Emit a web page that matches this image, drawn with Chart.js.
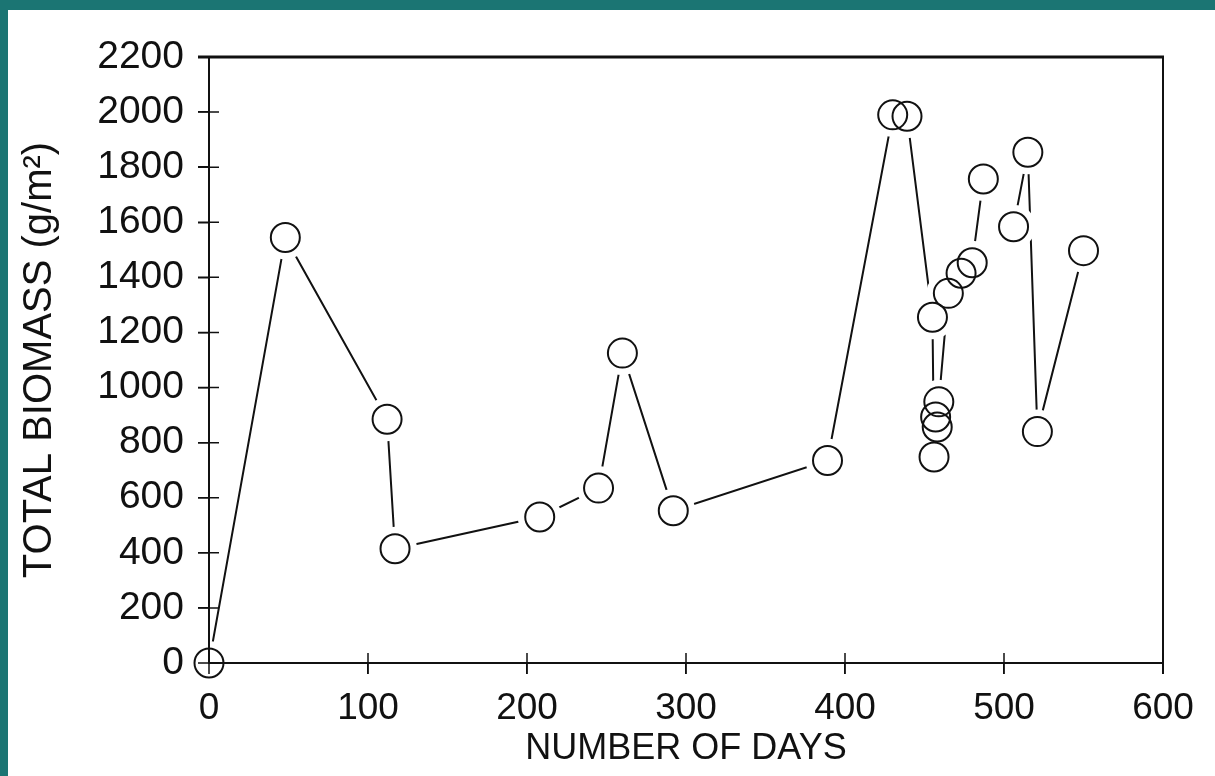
<!DOCTYPE html>
<html>
<head>
    <title>Total Biomass</title>
    <style type="text/css">
        body {
            margin: 0;
            width: 1215px;
            height: 776px;
            overflow: hidden;
            position: relative;
            background: #1b7573;
        }

        .panel {
            position: absolute;
            left: 8px;
            top: 10px;
            right: 0;
            bottom: 0;
            background: #fff;
        }

        #chart {
            position: absolute;
            left: 0;
            top: 0;
        }
    </style>
</head>
<body>
    <div class="panel"></div>
    <canvas id="chart" width="1215" height="776"></canvas>
    <script src="https://cdn.jsdelivr.net/npm/chart.js@4.4.0/dist/chart.umd.min.js"></script>
    <script>
        // sampling days and biomass (null = break in the line)
        var days = [0, 48, 112, 117, 208, 245, 260, 292, 389, 430, 439, 455, 456, 457, 458, 459, 465, 473, 480, 487, null, 506, 515, 521, 550];
        var biomass = [0, 1545, 885, 415, 530, 635, 1125, 553, 735, 1990, 1985, 1255, 748, 893, 857, 948, 1342, 1415, 1453, 1757, null, 1584, 1854, 840, 1497];

        var xTickValues = [0, 100, 200, 300, 400, 500, 600];
        var yTickValues = [0, 200, 400, 600, 800, 1000, 1200, 1400, 1600, 1800, 2000, 2200];

        var ink = '#111';
        var fontFamily = "'Liberation Sans', Arial, sans-serif";
        var points = days.map((d, i) => ({ x: d, y: biomass[i] }));

        // frame + ticks crossing the axes, drawn over the datasets
        var framePlugin = {
            id: 'frame',
            afterDatasetsDraw(chart) {
                var ctx = chart.ctx;
                var a = chart.chartArea;
                var xs = chart.scales.x, ys = chart.scales.y;
                ctx.save();
                ctx.strokeStyle = ink;
                ctx.lineWidth = 2;
                ctx.beginPath();
                ctx.moveTo(a.left, a.top);
                ctx.lineTo(a.left, a.bottom);
                ctx.lineTo(a.right, a.bottom);
                ctx.moveTo(a.right, a.top);
                ctx.lineTo(a.right, a.bottom + 11);
                ctx.stroke();
                ctx.lineWidth = 3;
                ctx.beginPath();
                ctx.moveTo(a.left - 11, a.top);
                ctx.lineTo(a.right + 1, a.top);
                ctx.stroke();
                ctx.lineWidth = 1.5;
                ctx.beginPath();
                xTickValues.forEach(v => {
                    var px = xs.getPixelForValue(v);
                    ctx.moveTo(px, a.bottom - 10);
                    ctx.lineTo(px, a.bottom + 11);
                });
                yTickValues.forEach(v => {
                    var py = ys.getPixelForValue(v);
                    ctx.moveTo(a.left - 11, py);
                    ctx.lineTo(a.left + 10, py);
                });
                ctx.stroke();
                ctx.restore();
            }
        };

        new Chart(document.getElementById('chart'), {
            type: 'line',
            data: {
                datasets: [
                    {
                        // connecting line, with white halos so it stops short of each circle
                        data: points,
                        borderColor: ink,
                        borderWidth: 2,
                        tension: 0,
                        spanGaps: false,
                        pointRadius: 22,
                        pointBorderWidth: 0,
                        pointBackgroundColor: '#fff',
                        pointBorderColor: '#fff',
                        clip: false,
                        order: 2
                    },
                    {
                        data: points,
                        showLine: false,
                        pointRadius: 14.5,
                        pointBorderWidth: 2,
                        pointBorderColor: ink,
                        pointBackgroundColor: 'rgba(0,0,0,0)',
                        clip: false,
                        order: 1
                    }
                ]
            },
            options: {
                responsive: false,
                animation: false,
                devicePixelRatio: 1,
                layout: { padding: { top: 57, right: 52, left: 0, bottom: 0 } },
                plugins: {
                    legend: { display: false },
                    tooltip: { enabled: false }
                },
                scales: {
                    x: {
                        type: 'linear',
                        min: 0,
                        max: 600,
                        afterBuildTicks: s => { s.ticks = xTickValues.map(v => ({ value: v })); },
                        afterFit: s => { s.height = 113; },
                        grid: { drawOnChartArea: false, tickLength: 11, color: ink, lineWidth: 1.5 },
                        border: { display: false },
                        ticks: {
                            padding: 13,
                            maxRotation: 0,
                            color: ink,
                            callback: v => String(v),
                            font: { family: fontFamily, size: 37 }
                        },
                        title: {
                            display: true,
                            text: 'NUMBER OF DAYS',
                            color: ink,
                            padding: { top: 0, bottom: 5 },
                            font: { family: fontFamily, size: 36 }
                        }
                    },
                    y: {
                        type: 'linear',
                        min: 0,
                        max: 2200,
                        afterBuildTicks: s => { s.ticks = yTickValues.map(v => ({ value: v })); },
                        afterFit: s => { s.width = 209; },
                        grid: { drawOnChartArea: false, tickLength: 11, color: ink, lineWidth: 1.5 },
                        border: { display: false },
                        ticks: {
                            padding: 14,
                            color: ink,
                            callback: v => String(v),
                            font: { family: fontFamily, size: 39 }
                        },
                        title: {
                            display: true,
                            text: 'TOTAL BIOMASS (g/m²)',
                            color: ink,
                            padding: { top: 16, bottom: 0 },
                            font: { family: fontFamily, size: 40 }
                        }
                    }
                }
            },
            plugins: [framePlugin]
        });
    </script>
</body>
</html>
